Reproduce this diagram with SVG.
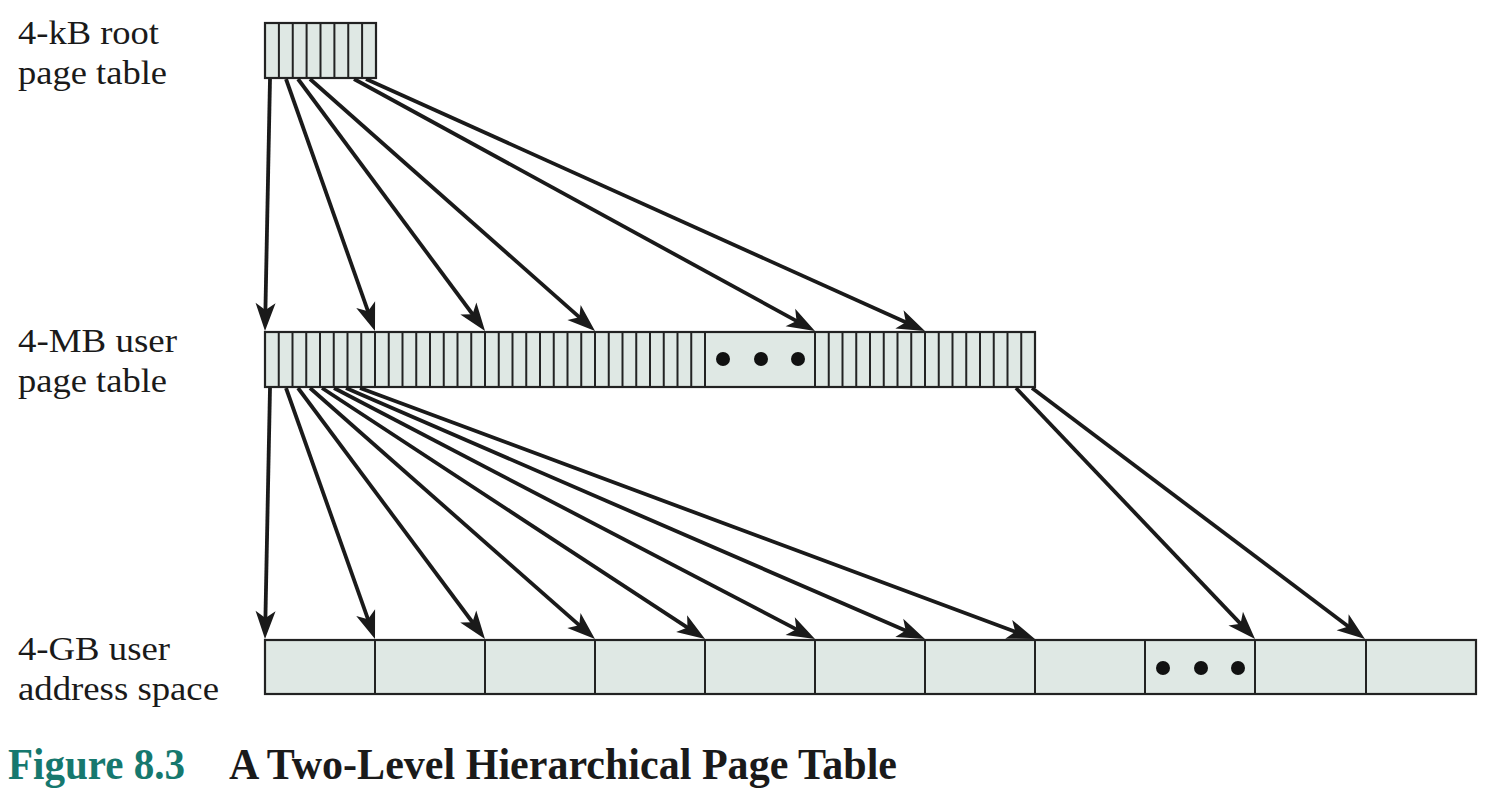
<svg xmlns="http://www.w3.org/2000/svg" width="1510" height="792" viewBox="0 0 1510 792">
<style>
.lbl{font-family:"Liberation Serif","Times New Roman",serif;font-size:33px;fill:#1a1a1a}
.box{fill:#dfe8e4;stroke:#222;stroke-width:2.2}
.div{fill:none;stroke:#222;stroke-width:2}
.arr{stroke:#1a1a1a;stroke-width:3.8;fill:none;marker-end:url(#ah)}
.dot{fill:#111}
.cap{font-family:"Liberation Serif","Times New Roman",serif;font-weight:bold;font-size:44px}
</style>
<defs>
<marker id="ah" markerUnits="userSpaceOnUse" orient="auto" refX="0" refY="0" markerWidth="40" markerHeight="40" overflow="visible">
<path d="M15,0 L-13,-10 L-6,0 L-13,10 Z" fill="#1a1a1a"/>
</marker>
</defs>
<rect width="1510" height="792" fill="#fff"/>

<g id="label-root">
<text class="lbl" x="18" y="44" textLength="141" lengthAdjust="spacingAndGlyphs">4-kB root</text>
<text class="lbl" x="18" y="84" textLength="149" lengthAdjust="spacingAndGlyphs">page table</text>
</g>
<g id="label-user-pt">
<text class="lbl" x="18" y="352" textLength="159" lengthAdjust="spacingAndGlyphs">4-MB user</text>
<text class="lbl" x="18" y="392" textLength="149" lengthAdjust="spacingAndGlyphs">page table</text>
</g>
<g id="label-addr">
<text class="lbl" x="18" y="660" textLength="152" lengthAdjust="spacingAndGlyphs">4-GB user</text>
<text class="lbl" x="18" y="700" textLength="201" lengthAdjust="spacingAndGlyphs">address space</text>
</g>

<g id="root-table">
<rect class="box" x="265" y="23" width="111" height="55"/>
<path class="div" d="M278.9,23V78M292.75,23V78M306.6,23V78M320.5,23V78M334.4,23V78M348.25,23V78M362.1,23V78"/>
</g>

<g id="user-page-table">
<rect class="box" x="265" y="332" width="770" height="55"/>
<path class="div" d="M278.75,332V387M292.5,332V387M306.25,332V387M320,332V387M333.75,332V387M347.5,332V387M361.25,332V387M375,332V387M388.75,332V387M402.5,332V387M416.25,332V387M430,332V387M443.75,332V387M457.5,332V387M471.25,332V387M485,332V387M498.75,332V387M512.5,332V387M526.25,332V387M540,332V387M553.75,332V387M567.5,332V387M581.25,332V387M595,332V387M608.75,332V387M622.5,332V387M636.25,332V387M650,332V387M663.75,332V387M677.5,332V387M691.25,332V387M705,332V387M815,332V387M828.75,332V387M842.5,332V387M856.25,332V387M870,332V387M883.75,332V387M897.5,332V387M911.25,332V387M925,332V387M938.75,332V387M952.5,332V387M966.25,332V387M980,332V387M993.75,332V387M1007.5,332V387M1021.25,332V387"/>
<circle class="dot" cx="723" cy="359" r="7"/>
<circle class="dot" cx="761" cy="359" r="7"/>
<circle class="dot" cx="798" cy="359" r="7"/>
</g>

<g id="user-address-space">
<rect class="box" x="265" y="640" width="1211" height="54"/>
<path class="div" d="M375,640V694M485,640V694M595,640V694M705,640V694M815,640V694M925,640V694M1035,640V694M1145,640V694M1255,640V694M1366,640V694"/>
<circle class="dot" cx="1163" cy="668" r="7"/>
<circle class="dot" cx="1201" cy="668" r="7"/>
<circle class="dot" cx="1238" cy="668" r="7"/>
</g>

<g id="connectors">
<line class="arr" x1="270" y1="79" x2="265.3" y2="316"/>
<line class="arr" x1="286" y1="79" x2="370" y2="316.9"/>
<line class="arr" x1="298" y1="79" x2="476.1" y2="319"/>
<line class="arr" x1="310" y1="79" x2="583.8" y2="321.1"/>
<line class="arr" x1="354" y1="79" x2="801.8" y2="323.8"/>
<line class="arr" x1="366" y1="79" x2="911.3" y2="324.8"/>

<line class="arr" x1="270" y1="388" x2="265.3" y2="624"/>
<line class="arr" x1="286" y1="388" x2="370" y2="624.9"/>
<line class="arr" x1="298" y1="388" x2="476" y2="627"/>
<line class="arr" x1="310" y1="388" x2="583.7" y2="629.1"/>
<line class="arr" x1="322" y1="388" x2="692.5" y2="630.8"/>
<line class="arr" x1="334" y1="388" x2="801.7" y2="632.1"/>
<line class="arr" x1="346" y1="388" x2="911.2" y2="633"/>
<line class="arr" x1="360" y1="388" x2="1020.9" y2="633.8"/>
<line class="arr" x1="1016" y1="388" x2="1244.7" y2="628.1"/>
<line class="arr" x1="1032" y1="388" x2="1353" y2="630"/>
</g>

<g id="caption">
<text class="cap" x="8" y="779" fill="#16786e" textLength="177" lengthAdjust="spacingAndGlyphs">Figure 8.3</text>
<text class="cap" x="229" y="779" fill="#1a1a1a" textLength="668" lengthAdjust="spacingAndGlyphs">A Two-Level Hierarchical Page Table</text>
</g>
</svg>
